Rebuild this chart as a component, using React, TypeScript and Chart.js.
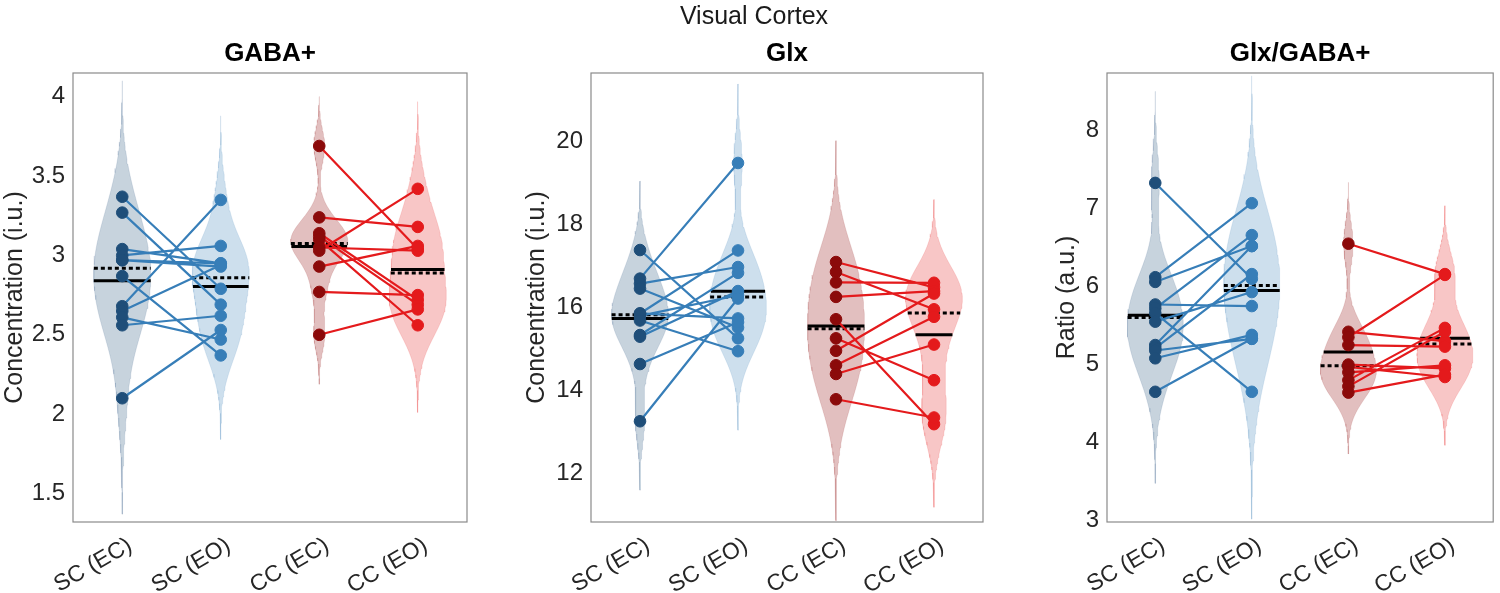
import { useEffect, useRef } from "react";
import { Chart, registerables } from "chart.js";

Chart.register(...registerables);

// ---------- data ----------
const groupLabels = ["SC (EC)", "SC (EO)", "CC (EC)", "CC (EO)"];
const groupPositions = [1, 2, 3, 4];

// GABA+ (i.u.), paired by index (EC -> EO)
const gabaScEC = [3.37, 3.27, 3.04, 3.0, 2.97, 2.97, 2.87, 2.68, 2.65, 2.61, 2.56, 2.1];
const gabaScEO = [2.79, 2.69, 2.95, 3.06, 2.93, 2.95, 2.37, 3.35, 2.94, 2.47, 2.62, 2.53];
const gabaCcEC = [3.69, 3.24, 3.14, 3.12, 3.1, 3.05, 3.03, 2.93, 2.77, 2.5];
const gabaCcEO = [3.04, 3.18, 2.72, 2.69, 2.56, 3.03, 3.42, 3.06, 2.75, 2.66];

// Glx (i.u.)
const glxScEC = [17.39, 16.7, 16.58, 16.46, 15.86, 15.86, 15.8, 15.69, 15.34, 15.3, 14.64, 13.26];
const glxScEO = [15.26, 19.49, 16.98, 15.52, 17.38, 15.74, 16.3, 14.95, 16.84, 16.4, 15.65, 16.22];
const glxCcEC = [17.1, 16.86, 16.61, 16.26, 15.72, 15.26, 14.96, 14.61, 14.4, 13.79];
const glxCcEO = [16.49, 15.96, 16.6, 16.4, 13.19, 14.25, 16.34, 15.78, 15.11, 13.35];

// Glx/GABA+ ratio (a.u.)
const ratioScEC = [7.33, 6.12, 6.06, 5.77, 5.72, 5.66, 5.55, 5.25, 5.21, 5.18, 5.08, 4.65];
const ratioScEO = [6.1, 7.07, 6.52, 5.75, 6.66, 4.65, 5.93, 6.52, 6.16, 5.33, 5.38, 5.33];
const ratioCcEC = [6.55, 5.42, 5.35, 5.25, 5.0, 4.97, 4.9, 4.8, 4.72, 4.64];
const ratioCcEO = [6.16, 5.3, 6.15, 5.23, 4.95, 4.84, 4.99, 5.47, 5.42, 4.87];

const gabaTicks = [1.5, 2, 2.5, 3, 3.5, 4];
const glxTicks = [12, 14, 16, 18, 20];
const ratioTicks = [3, 4, 5, 6, 7, 8];

const figureTitle = "Visual Cortex";
const panelTitles = ["GABA+", "Glx", "Glx/GABA+"];
const yTitles = ["Concentration (i.u.)", "Concentration (i.u.)", "Ratio (a.u.)"];

// ---------- styles ----------
const FONT = "'Liberation Sans', Arial, Helvetica, sans-serif";
const pointColors = ["#1f4e79", "#377eb8", "#8b0a0a", "#e41a1c"];
const violinColors = [
  "rgba(31,78,121,0.25)",
  "rgba(55,126,184,0.25)",
  "rgba(139,0,0,0.25)",
  "rgba(228,26,28,0.25)",
];
const violinEdgeColors = [
  "rgba(31,78,121,0.12)",
  "rgba(55,126,184,0.12)",
  "rgba(139,0,0,0.12)",
  "rgba(228,26,28,0.12)",
];
const pairLineColors = ["#377eb8", "#e41a1c"];
const HALF = 0.29;

// ---------- helpers (violin = kernel density of the data) ----------
function median(v: number[]) {
  const s = [...v].sort((a, b) => a - b);
  const n = s.length;
  return n % 2 ? s[(n - 1) / 2] : (s[n / 2 - 1] + s[n / 2]) / 2;
}
function mean(v: number[]) {
  return v.reduce((a, b) => a + b, 0) / v.length;
}
function bandwidth(v: number[]) {
  const med = median(v);
  const sig = median(v.map((x) => Math.abs(x - med))) / 0.6745;
  return sig * Math.pow(4 / (3 * v.length), 0.2);
}
function dens(v: number[], u: number, y: number) {
  return v.reduce((s, x) => s + Math.exp(-0.5 * ((y - x) / u) ** 2), 0);
}
function violin(v: number[], centre: number) {
  const u = bandwidth(v);
  const lo = Math.min(...v) - 3 * u;
  const hi = Math.max(...v) + 3 * u;
  const n = 100;
  const ys: number[] = [];
  for (let i = 0; i < n; i++) ys.push(lo + ((hi - lo) * i) / (n - 1));
  const fs = ys.map((y) => dens(v, u, y));
  const fmax = Math.max(...fs);
  const right = ys.map((y, i) => ({ x: centre + (HALF * fs[i]) / fmax, y }));
  const left = ys.map((y, i) => ({ x: centre - (HALF * fs[i]) / fmax, y })).reverse();
  return {
    outline: [...right, ...left],
    widthAt: (y: number) => (HALF * dens(v, u, y)) / fmax,
  };
}

type PanelSpec = {
  groups: number[][];
  ticks: number[];
  min: number;
  max: number;
  title: string;
  yTitle: string;
  padLeft: number;
  padRight: number;
  yWidth: number;
};

const boxPlugin = {
  id: "boxFrame",
  afterDraw(chart: any) {
    const { ctx, chartArea: a } = chart;
    ctx.save();
    ctx.strokeStyle = "#8a8a8a";
    ctx.lineWidth = 1.2;
    ctx.strokeRect(a.left, a.top, a.right - a.left, a.bottom - a.top);
    ctx.restore();
  },
};

function buildConfig(p: PanelSpec): any {
  const datasets: any[] = [];
  p.groups.forEach((vals, gi) => {
    const c = groupPositions[gi];
    const vio = violin(vals, c);
    datasets.push({
      type: "line",
      data: vio.outline,
      fill: "shape",
      backgroundColor: violinColors[gi],
      borderWidth: 1,
      borderColor: violinEdgeColors[gi],
      pointRadius: 0,
      tension: 0,
      order: 10,
    });
    const m = mean(vals);
    const md = median(vals);
    const wm = vio.widthAt(m);
    const wmd = vio.widthAt(md);
    datasets.push({
      type: "line",
      data: [
        { x: c - wmd, y: md },
        { x: c + wmd, y: md },
      ],
      borderColor: "#000",
      borderWidth: 3,
      borderDash: [4, 3],
      pointRadius: 0,
      order: 6,
    });
    datasets.push({
      type: "line",
      data: [
        { x: c - wm, y: m },
        { x: c + wm, y: m },
      ],
      borderColor: "#000",
      borderWidth: 3,
      pointRadius: 0,
      order: 5,
    });
  });
  [0, 1].forEach((k) => {
    const a = p.groups[2 * k];
    const b = p.groups[2 * k + 1];
    const data: any[] = [];
    a.forEach((v, i) => {
      data.push({ x: groupPositions[2 * k], y: v });
      data.push({ x: groupPositions[2 * k + 1], y: b[i] });
      data.push({ x: groupPositions[2 * k] + 0.5, y: null });
    });
    datasets.push({
      type: "line",
      data,
      borderColor: pairLineColors[k],
      borderWidth: 2.2,
      pointRadius: 0,
      spanGaps: false,
      order: 3,
    });
  });
  p.groups.forEach((vals, gi) => {
    datasets.push({
      type: "line",
      data: vals.map((v) => ({ x: groupPositions[gi], y: v })),
      showLine: false,
      pointRadius: 5.8,
      pointBackgroundColor: pointColors[gi],
      pointBorderColor: pointColors[gi],
      pointBorderWidth: 1,
      order: 1,
    });
  });

  return {
    type: "line",
    data: { datasets },
    plugins: [boxPlugin],
    options: {
      animation: false,
      responsive: false,
      events: [],
      layout: { padding: { left: p.padLeft, right: p.padRight, top: 0, bottom: 0 } },
      plugins: {
        legend: { display: false },
        tooltip: { enabled: false },
        title: {
          display: true,
          text: p.title,
          fullSize: false,
          color: "#000",
          font: { family: FONT, size: 26, weight: "bold", lineHeight: 1.2 },
          padding: { top: 38.6, bottom: 3.2 },
        },
      },
      scales: {
        x: {
          type: "linear",
          min: 0.5,
          max: 4.5,
          afterBuildTicks: (s: any) => {
            s.ticks = groupPositions.map((v) => ({ value: v }));
          },
          afterFit: (s: any) => {
            s.height = 71;
          },
          grid: { display: false, drawTicks: false },
          border: { display: false },
          ticks: {
            minRotation: 30,
            maxRotation: 30,
            autoSkip: false,
            padding: 10,
            labelOffset: 8,
            color: "#262626",
            font: { family: FONT, size: 23 },
            callback: (v: any) => {
              const i = groupPositions.indexOf(Number(v));
              return i >= 0 ? groupLabels[i] : "";
            },
          },
        },
        y: {
          type: "linear",
          min: p.min,
          max: p.max,
          afterBuildTicks: (s: any) => {
            s.ticks = p.ticks.map((v) => ({ value: v }));
          },
          afterFit: (s: any) => {
            s.width = p.yWidth;
          },
          grid: { display: false, drawTicks: false },
          border: { display: false },
          ticks: {
            padding: 8,
            color: "#262626",
            font: { family: FONT, size: 24 },
            callback: (v: any) => String(v),
          },
          title: {
            display: true,
            text: p.yTitle,
            color: "#262626",
            padding: 0,
            font: { family: FONT, size: 25, lineHeight: 1.2 },
          },
        },
      },
    },
  };
}

const panels: { spec: PanelSpec; left: number; width: number }[] = [
  {
    left: 0,
    width: 490,
    spec: {
      groups: [gabaScEC, gabaScEO, gabaCcEC, gabaCcEO],
      ticks: gabaTicks,
      min: 1.32,
      max: 4.15,
      title: panelTitles[0],
      yTitle: yTitles[0],
      padLeft: 0,
      padRight: 23,
      yWidth: 73,
    },
  },
  {
    left: 490,
    width: 510,
    spec: {
      groups: [glxScEC, glxScEO, glxCcEC, glxCcEO],
      ticks: glxTicks,
      min: 10.83,
      max: 21.66,
      title: panelTitles[1],
      yTitle: yTitles[1],
      padLeft: 32,
      padRight: 17,
      yWidth: 69,
    },
  },
  {
    left: 1000,
    width: 500,
    spec: {
      groups: [ratioScEC, ratioScEO, ratioCcEC, ratioCcEO],
      ticks: ratioTicks,
      min: 2.98,
      max: 8.74,
      title: panelTitles[2],
      yTitle: yTitles[2],
      padLeft: 52,
      padRight: 1,
      yWidth: 55,
    },
  },
];

function Panel({ spec, left, width }: { spec: PanelSpec; left: number; width: number }) {
  const ref = useRef<HTMLCanvasElement>(null);
  useEffect(() => {
    const chart = new Chart(ref.current as HTMLCanvasElement, buildConfig(spec));
    return () => chart.destroy();
  }, []);
  return (
    <canvas
      ref={ref}
      width={width}
      height={593}
      style={{ position: "absolute", left, top: 0, width, height: 593 }}
    />
  );
}

export default function App() {
  return (
    <div
      style={{
        position: "absolute",
        left: 0,
        top: 0,
        width: 1500,
        height: 593,
        background: "#fff",
        overflow: "hidden",
      }}
    >
      {panels.map((p, i) => (
        <Panel key={i} spec={p.spec} left={p.left} width={p.width} />
      ))}
      <div
        style={{
          position: "absolute",
          left: 554,
          top: 2,
          width: 400,
          textAlign: "center",
          fontFamily: FONT,
          fontSize: 25,
          lineHeight: "26px",
          color: "#1a1a1a",
        }}
      >
        {figureTitle}
      </div>
    </div>
  );
}
